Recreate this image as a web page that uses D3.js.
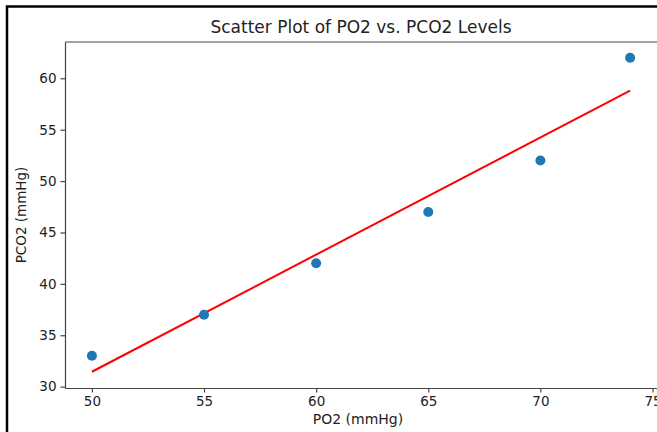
<!DOCTYPE html>
<html>
<head>
<meta charset="utf-8">
<script src="https://cdn.jsdelivr.net/npm/d3@7"></script>
<style>
  body { margin: 0; background: #fff; }
  svg { display: block; font-family: "DejaVu Sans", sans-serif; }
</style>
</head>
<body>
<div id="container"></div>
<script>
/* DATA */
const po2 = [50, 55, 60, 65, 70, 74];
const pco2 = [33, 37, 42, 47, 52, 62];
// fitted line end points
const fitX = [50, 74];
const fitY = [31.45, 58.8];
const xTicks = [50, 55, 60, 65, 70, 75];
const yTicks = [30, 35, 40, 45, 50, 55, 60];

/* CONSTANTS */
const width = 657;
const height = 432;
const margin = { top: 42, right: 0, bottom: 44, left: 65 };

const svg = d3.select("#container")
  .append("svg")
  .attr("width", width)
  .attr("height", height);

// screenshot frame
svg.append("path")
  .attr("d", `M7,${height} V6.5 H${width}`)
  .attr("fill", "none")
  .attr("stroke", "#000")
  .attr("stroke-width", 2.5);

/* SCALES */
const xScale = d3.scaleLinear()
  .domain([48.8, 75.2])
  .range([margin.left, width - margin.right]);

const yScale = d3.scaleLinear()
  .domain([29.87, 63.53])
  .range([height - margin.bottom, margin.top]);

// axes
const xAxis = svg.append("g")
  .attr("transform", `translate(0,${height - margin.bottom})`)
  .call(d3.axisBottom(xScale).tickValues(xTicks).tickSize(4.5).tickSizeOuter(0).tickPadding(4));

const yAxis = svg.append("g")
  .attr("transform", `translate(${margin.left},0)`)
  .call(d3.axisLeft(yScale).tickValues(yTicks).tickSize(4.5).tickSizeOuter(0).tickPadding(4));

[xAxis, yAxis].forEach(g => {
  g.selectAll("path, line").attr("stroke", "#444").attr("stroke-width", 1.2);
  g.selectAll("text")
    .attr("fill", "#222")
    .style("font-size", "13.5px")
    .style("font-family", "DejaVu Sans, sans-serif");
});

// top spine
svg.append("line")
  .attr("x1", margin.left).attr("x2", width)
  .attr("y1", margin.top).attr("y2", margin.top)
  .attr("stroke", "#444").attr("stroke-width", 1.2);

// fit line
svg.append("line")
  .attr("x1", xScale(fitX[0])).attr("y1", yScale(fitY[0]))
  .attr("x2", xScale(fitX[1])).attr("y2", yScale(fitY[1]))
  .attr("stroke", "#ff0000")
  .attr("stroke-width", 2);

// points
svg.selectAll("circle")
  .data(po2)
  .join("circle")
  .attr("cx", d => xScale(d))
  .attr("cy", (d, i) => yScale(pco2[i]))
  .attr("r", 5)
  .attr("fill", "#1f77b4");

// labels
svg.append("text")
  .attr("x", 361)
  .attr("y", 33)
  .attr("text-anchor", "middle")
  .style("font-size", "17px")
  .attr("fill", "#222")
  .text("Scatter Plot of PO2 vs. PCO2 Levels");

svg.append("text")
  .attr("x", 358)
  .attr("y", 424)
  .attr("text-anchor", "middle")
  .style("font-size", "14px")
  .attr("fill", "#222")
  .text("PO2 (mmHg)");

svg.append("text")
  .attr("transform", `translate(26,215) rotate(-90)`)
  .attr("text-anchor", "middle")
  .style("font-size", "13.5px")
  .attr("fill", "#222")
  .text("PCO2 (mmHg)");
</script>
</body>
</html>
